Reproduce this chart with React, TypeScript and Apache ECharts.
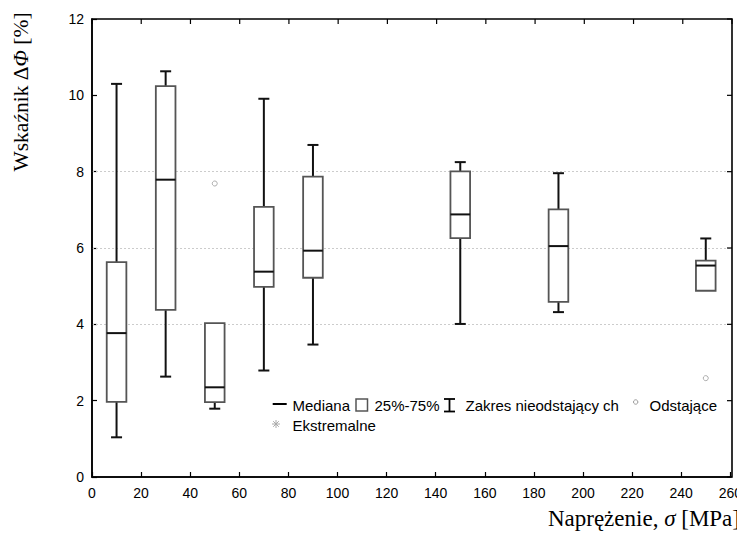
import React, { useEffect, useRef } from "react";
import * as echarts from "echarts";

// stress levels (MPa)
const stress = [10, 30, 50, 70, 90, 150, 190, 250];
// box statistics: lower whisker, Q1, median, Q3, upper whisker
const whiskerLow = [1.04, 2.63, 1.79, 2.79, 3.47, 4.01, 4.32, 4.88];
const q1 = [1.97, 4.38, 1.96, 4.98, 5.22, 6.26, 4.59, 4.88];
const median = [3.77, 7.79, 2.35, 5.38, 5.93, 6.88, 6.05, 5.54];
const q3 = [5.63, 10.24, 4.03, 7.08, 7.87, 8.01, 7.01, 5.67];
const whiskerHigh = [10.3, 10.63, 4.03, 9.91, 8.7, 8.25, 7.96, 6.25];
// outliers
const outlierX = [50, 250];
const outlierY = [7.69, 2.59];
// dotted reference lines
const gridValues = [4, 6, 8];

const xTicks = { min: 0, max: 260, interval: 20 };
const yTicks = { min: 0, max: 12, interval: 2 };

const SANS = "'Liberation Sans', Arial, sans-serif";
const SERIF = "'Liberation Serif', 'Times New Roman', serif";

const W = 745;
const H = 542;
const GRID = { left: 92, top: 19, right: 13, bottom: 65 };

function tickValues(t: { min: number; max: number; interval: number }) {
  const out: number[] = [];
  for (let v = t.min; v <= t.max + 1e-9; v += t.interval) out.push(v);
  return out;
}

export default function App() {
  const ref = useRef<HTMLDivElement>(null);
  useEffect(() => {
    if (!ref.current) return;
    const chart = echarts.init(ref.current, null, { renderer: "svg" });
    const boxData = stress.map((s, i) => [s, whiskerLow[i], q1[i], median[i], q3[i], whiskerHigh[i]]);
    const outliers = outlierX.map((x, i) => [x, outlierY[i]]);
    const axisLine = { show: true, onZero: false, lineStyle: { color: "#000", width: 1.5 } };
    const tick = { show: true, inside: true, length: 5, lineStyle: { color: "#000", width: 1.2 } };
    const label = { color: "#000", fontSize: 14, fontFamily: SANS };
    const BOX_W = 8;
    const CAP = 5.5;
    const TICK_LEN = 5;

    const l = GRID.left;
    const t = GRID.top;
    const r = W - GRID.right;
    const b = H - GRID.bottom;
    const fx = (v: number) => l + ((v - xTicks.min) / (xTicks.max - xTicks.min)) * (r - l);
    const fy = (v: number) => b - ((v - yTicks.min) / (yTicks.max - yTicks.min)) * (b - t);

    const legendY1 = 404;
    const legendY2 = 424;
    const legendText = (x: number, y: number, s: string) => ({
      type: "text",
      x,
      y,
      z: 50,
      style: { text: s, fontSize: 15, fontFamily: SANS, fill: "#000", textVerticalAlign: "middle" },
    });
    const ln = (x1: number, y1: number, x2: number, y2: number, color = "#000", w = 1.8) => ({
      type: "line",
      z: 60,
      shape: { x1, y1, x2, y2 },
      style: { stroke: color, lineWidth: w },
    });

    const frame: any[] = [
      {
        type: "rect",
        id: "frameRect",
        z: 60,
        shape: { x: l, y: t, width: r - l, height: b - t },
        style: { fill: "none", stroke: "#000", lineWidth: 1.6 },
        silent: true,
      },
    ];
    tickValues(xTicks).forEach((v) => frame.push(ln(fx(v), t, fx(v), t + TICK_LEN, "#000", 1.2)));
    tickValues(yTicks).forEach((v) => frame.push(ln(r, fy(v), r - TICK_LEN, fy(v), "#000", 1.2)));

    chart.setOption({
      animation: false,
      grid: { ...GRID },
      xAxis: {
        type: "value",
        position: "bottom",
        ...xTicks,
        axisLine,
        axisTick: tick,
        axisLabel: { ...label, margin: 9 },
        splitLine: { show: false },
      },
      yAxis: {
        type: "value",
        position: "left",
        ...yTicks,
        axisLine,
        axisTick: tick,
        axisLabel: { ...label, margin: 8 },
        splitLine: { show: false },
      },
      series: [
        {
          type: "custom",
          encode: { x: 0, y: [1, 2, 3, 4, 5] },
          data: boxData,
          z: 3,
          renderItem: (params: any, api: any) => {
            const x = api.value(0);
            const lo = api.value(1);
            const a = api.value(2);
            const m = api.value(3);
            const bq = api.value(4);
            const hi = api.value(5);
            const cx = api.coord([x, 0])[0];
            const yLo = api.coord([x, lo])[1];
            const yA = api.coord([x, a])[1];
            const yM = api.coord([x, m])[1];
            const yB = api.coord([x, bq])[1];
            const yHi = api.coord([x, hi])[1];
            const half = api.size([BOX_W, 0])[0] / 2;
            const children: any[] = [];
            const wStyle = { stroke: "#111", lineWidth: 2 };
            if (hi > bq) {
              children.push({ type: "line", shape: { x1: cx, y1: yB, x2: cx, y2: yHi }, style: wStyle });
              children.push({ type: "line", shape: { x1: cx - CAP, y1: yHi, x2: cx + CAP, y2: yHi }, style: wStyle });
            }
            if (lo < a) {
              children.push({ type: "line", shape: { x1: cx, y1: yA, x2: cx, y2: yLo }, style: wStyle });
              children.push({ type: "line", shape: { x1: cx - CAP, y1: yLo, x2: cx + CAP, y2: yLo }, style: wStyle });
            }
            children.push({
              type: "rect",
              shape: { x: cx - half, y: yB, width: half * 2, height: yA - yB },
              style: { fill: "#fff", stroke: "#555", lineWidth: 1.8 },
            });
            children.push({
              type: "line",
              shape: { x1: cx - half, y1: yM, x2: cx + half, y2: yM },
              style: { stroke: "#111", lineWidth: 2 },
            });
            return { type: "group", children };
          },
        },
        {
          type: "scatter",
          data: outliers,
          symbol: "circle",
          symbolSize: 5,
          itemStyle: { color: "#fff", borderColor: "#999", borderWidth: 1 },
          z: 4,
          markLine: {
            silent: true,
            symbol: "none",
            label: { show: false },
            lineStyle: { color: "#ccc", type: [2, 2], width: 1 },
            data: gridValues.map((v) => ({ yAxis: v })),
            z: 1,
          },
        },
      ],
      graphic: [
        // legend row 1
        ln(272.7, legendY1, 286.7, legendY1, "#000", 2),
        legendText(292.5, legendY1 + 1, "Mediana"),
        {
          type: "rect",
          z: 50,
          shape: { x: 356, y: 399, width: 11.5, height: 12 },
          style: { fill: "#fff", stroke: "#555", lineWidth: 1.5 },
        },
        legendText(374.5, legendY1 + 1, "25%-75%"),
        ln(449.5, 399, 449.5, 411.5, "#000", 1.8),
        ln(444, 399, 455, 399, "#000", 1.8),
        ln(444, 411.5, 455, 411.5, "#000", 1.8),
        legendText(465.5, legendY1 + 1, "Zakres nieodstający ch"),
        {
          type: "circle",
          z: 50,
          shape: { cx: 635.7, cy: 402, r: 2.2 },
          style: { fill: "#fff", stroke: "#999", lineWidth: 1 },
        },
        legendText(649.5, legendY1 + 1, "Odstające"),
        // legend row 2
        ln(276, 420, 276, 428, "#aaa", 1),
        ln(272, 424, 280, 424, "#aaa", 1),
        ln(273.2, 421.2, 278.8, 426.8, "#aaa", 1),
        ln(273.2, 426.8, 278.8, 421.2, "#aaa", 1),
        legendText(292.5, legendY2 + 1, "Ekstremalne"),
        // axis titles
        {
          type: "text",
          x: 740,
          y: 518,
          style: {
            text: "{r|Naprężenie, }{i|σ}{r| [MPa]}",
            textAlign: "right",
            textVerticalAlign: "middle",
            rich: {
              r: { fontSize: 23, fontFamily: SERIF, fill: "#000" },
              i: { fontSize: 23, fontFamily: SERIF, fontStyle: "italic", fill: "#000" },
            },
          },
        },
        {
          type: "text",
          x: 21,
          y: 92,
          rotation: Math.PI / 2,
          style: {
            text: "{r|Wskaźnik Δ}{i|Φ}{r| [%]}",
            textAlign: "center",
            textVerticalAlign: "middle",
            rich: {
              r: { fontSize: 21.5, fontFamily: SERIF, fill: "#000" },
              i: { fontSize: 21.5, fontFamily: SERIF, fontStyle: "italic", fill: "#000" },
            },
          },
        },
        // frame (top & right edges with inward ticks)
        ...frame,
      ],
    });
    return () => chart.dispose();
  }, []);
  return <div ref={ref} style={{ width: W, height: H, margin: -8 }} />;
}
